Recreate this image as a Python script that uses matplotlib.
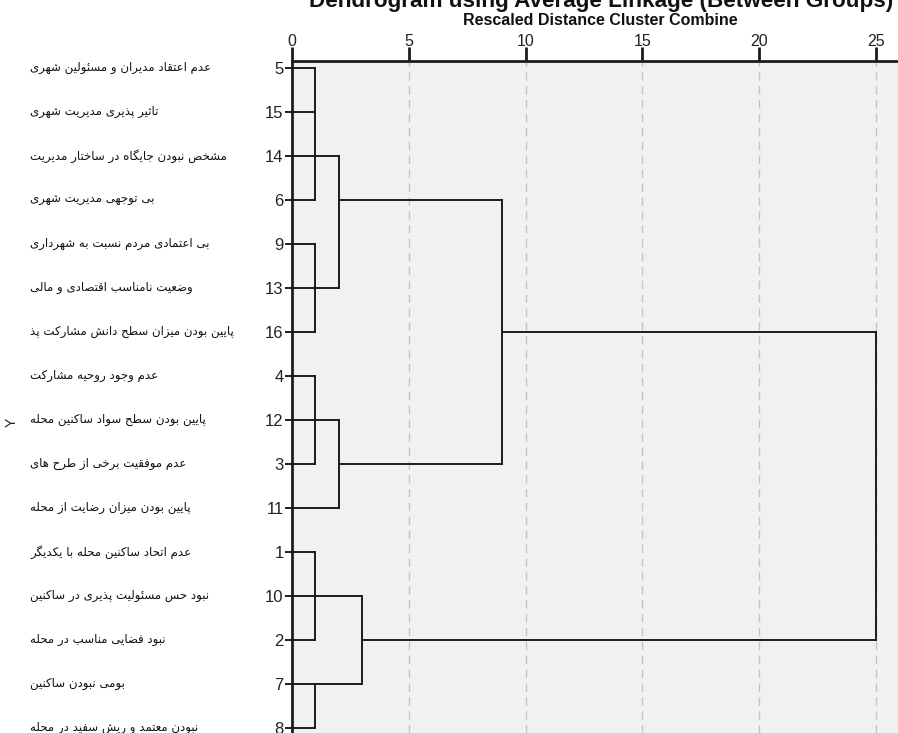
import matplotlib
matplotlib.use("Agg")
import matplotlib.pyplot as plt
import matplotlib.transforms as mtransforms

# ---------------- data ----------------
leaf_ids = [5, 15, 14, 6, 9, 13, 16, 4, 12, 3, 11, 1, 10, 2, 7, 8]
leaf_labels = [
    "عدم اعتقاد مدیران و مسئولین شهری",
    "تاثیر پذیری مدیریت شهری",
    "مشخص نبودن جایگاه در ساختار مدیریت",
    "بی توجهی مدیریت شهری",
    "بی اعتمادی مردم نسبت به شهرداری",
    "وضعیت نامناسب اقتصادی و مالی",
    "پایین بودن میزان سطح دانش مشارکت پذ",
    "عدم وجود روحیه مشارکت",
    "پایین بودن سطح سواد ساکنین محله",
    "عدم موفقیت برخی از طرح های",
    "پایین بودن میزان رضایت از محله",
    "عدم اتحاد ساکنین محله با یکدیگر",
    "نبود حس مسئولیت پذیری در ساکنین",
    "نبود فضایی مناسب در محله",
    "بومی نبودن ساکنین",
    "نبودن معتمد و ریش سفید در محله",
]
# cluster nodes: children, merge distance, leaf whose row carries the outgoing line
node_names = ["A", "B", "C", "D", "E", "F", "G", "H", "I", "J"]
node_children = [
    [5, 15, 14, 6],
    [9, 13, 16],
    ["A", "B"],
    [4, 12, 3],
    ["D", 11],
    ["C", "E"],
    [1, 10, 2],
    [7, 8],
    ["G", "H"],
    ["F", "I"],
]
node_heights = [1, 1, 2, 1, 2, 9, 1, 1, 3, 25]
node_anchor_leaf = [14, 13, 6, 12, 3, 16, 10, 7, 2, None]
x_ticks = [0, 5, 10, 15, 20, 25]

# ---------------- simple Arabic/Persian shaping ----------------
FORMS = {  # isolated, final, initial, medial
    "ا": ("\uFE8D", "\uFE8E"), "آ": ("\uFE81", "\uFE82"), "أ": ("\uFE83", "\uFE84"),
    "د": ("\uFEA9", "\uFEAA"), "ذ": ("\uFEAB", "\uFEAC"), "ر": ("\uFEAD", "\uFEAE"),
    "ز": ("\uFEAF", "\uFEB0"), "ژ": ("\uFB8A", "\uFB8B"), "و": ("\uFEED", "\uFEEE"),
    "ؤ": ("\uFE85", "\uFE86"),
    "ب": ("\uFE8F", "\uFE90", "\uFE91", "\uFE92"), "ت": ("\uFE95", "\uFE96", "\uFE97", "\uFE98"),
    "ث": ("\uFE99", "\uFE9A", "\uFE9B", "\uFE9C"), "ج": ("\uFE9D", "\uFE9E", "\uFE9F", "\uFEA0"),
    "ح": ("\uFEA1", "\uFEA2", "\uFEA3", "\uFEA4"), "خ": ("\uFEA5", "\uFEA6", "\uFEA7", "\uFEA8"),
    "س": ("\uFEB1", "\uFEB2", "\uFEB3", "\uFEB4"), "ش": ("\uFEB5", "\uFEB6", "\uFEB7", "\uFEB8"),
    "ص": ("\uFEB9", "\uFEBA", "\uFEBB", "\uFEBC"), "ض": ("\uFEBD", "\uFEBE", "\uFEBF", "\uFEC0"),
    "ط": ("\uFEC1", "\uFEC2", "\uFEC3", "\uFEC4"), "ظ": ("\uFEC5", "\uFEC6", "\uFEC7", "\uFEC8"),
    "ع": ("\uFEC9", "\uFECA", "\uFECB", "\uFECC"), "غ": ("\uFECD", "\uFECE", "\uFECF", "\uFED0"),
    "ف": ("\uFED1", "\uFED2", "\uFED3", "\uFED4"), "ق": ("\uFED5", "\uFED6", "\uFED7", "\uFED8"),
    "ل": ("\uFEDD", "\uFEDE", "\uFEDF", "\uFEE0"), "م": ("\uFEE1", "\uFEE2", "\uFEE3", "\uFEE4"),
    "ن": ("\uFEE5", "\uFEE6", "\uFEE7", "\uFEE8"), "ه": ("\uFEE9", "\uFEEA", "\uFEEB", "\uFEEC"),
    "ئ": ("\uFE89", "\uFE8A", "\uFE8B", "\uFE8C"), "ی": ("\uFBFC", "\uFBFD", "\uFBFE", "\uFBFF"),
    "ي": ("\uFEF1", "\uFEF2", "\uFEF3", "\uFEF4"), "پ": ("\uFB56", "\uFB57", "\uFB58", "\uFB59"),
    "چ": ("\uFB7A", "\uFB7B", "\uFB7C", "\uFB7D"), "ک": ("\uFB8E", "\uFB8F", "\uFB90", "\uFB91"),
    "گ": ("\uFB92", "\uFB93", "\uFB94", "\uFB95"), "ك": ("\uFED9", "\uFEDA", "\uFEDB", "\uFEDC"),
}


def shape(text):
    out = []
    n = len(text)
    for i, c in enumerate(text):
        f = FORMS.get(c)
        if f is None:
            out.append(c)
            continue
        prev = text[i - 1] if i > 0 else ""
        nxt = text[i + 1] if i + 1 < n else ""
        pj = prev in FORMS and len(FORMS[prev]) == 4
        nj = len(f) == 4 and nxt in FORMS
        if pj and nj:
            out.append(f[3])
        elif pj:
            out.append(f[1])
        elif nj:
            out.append(f[2])
        else:
            out.append(f[0])
    return "".join(out)[::-1]


# ---------------- figure ----------------
W, H = 898, 733
fig = plt.figure(figsize=(W / 100, H / 100), dpi=100)
fig.patch.set_facecolor("white")
ax_left, ax_top, x25_px = 292, 61, 876
ax = fig.add_axes([ax_left / W, 0, (W - ax_left) / W, (H - ax_top) / H])
ax.set_facecolor("#f0f1f0")

row_px0, row_step = 68, 44
ax.set_ylim((H - row_px0) / row_step, -(row_px0 - ax_top) / row_step)
ax.set_xlim(0, (W - ax_left) / ((x25_px - ax_left) / 25))

row_of = {lid: i for i, lid in enumerate(leaf_ids)}
line_kw = dict(color="#1c1c1c", lw=1.4, solid_capstyle="projecting", zorder=3)

# grid
for xt in x_ticks[1:]:
    ax.axvline(xt, color="#c4c4c4", lw=1.0, ls=(0, (6, 4)), zorder=1)

node_info = {}  # name -> (height, anchor row)


def child_pos(ch):
    if ch in node_info:
        return node_info[ch]
    return (0, row_of[ch])


for name, children, h, anc in zip(node_names, node_children, node_heights, node_anchor_leaf):
    ys = []
    for ch in children:
        x0, y0 = child_pos(ch)
        ax.plot([x0, h], [y0, y0], **line_kw)
        ys.append(y0)
    ax.plot([h, h], [min(ys), max(ys)], **line_kw)
    node_info[name] = (h, row_of[anc] if anc is not None else (min(ys) + max(ys)) / 2)

# axes styling
for s in ["right", "bottom"]:
    ax.spines[s].set_visible(False)
for s in ["left", "top"]:
    ax.spines[s].set_linewidth(2.0)
    ax.spines[s].set_color("#1c1c1c")

ax.xaxis.tick_top()
ax.set_xticks(x_ticks)
ax.set_xticklabels([str(t) for t in x_ticks], fontsize=11.5, color="#222222", family="Liberation Sans")
ax.tick_params(axis="x", direction="out", length=10, width=2, color="#1c1c1c", pad=-1)

ax.set_yticks(range(len(leaf_ids)))
ax.set_yticklabels([str(l) for l in leaf_ids], fontsize=12, color="#222222", family="Liberation Sans")
ax.tick_params(axis="y", direction="out", length=5, width=1.4, color="#1c1c1c", pad=1)

# Persian labels
trans = mtransforms.blended_transform_factory(fig.transFigure, ax.transData)
for i, lab in enumerate(leaf_labels):
    ax.text(30 / W, i, shape(lab), transform=trans, ha="left", va="center",
            fontsize=8.5, color="#111111", family=["DejaVu Sans"], clip_on=False)

fig.text(12 / W, 1 - 422 / H, "Y", rotation=90, ha="center", va="center", fontsize=10,
         color="#222222", family="Liberation Sans")

fig.text(601 / W, 1 - 7 / H, "Dendrogram using Average Linkage (Between Groups)",
         ha="center", va="baseline", fontsize=16.2, fontweight="bold", color="#111111",
         family="Liberation Sans")
fig.text(600 / W, 1 - 25 / H, "Rescaled Distance Cluster Combine", ha="center", va="baseline",
         fontsize=11.5, fontweight="bold", color="#111111", family="Liberation Sans")

fig.savefig("out.png", dpi=100, facecolor="white")
